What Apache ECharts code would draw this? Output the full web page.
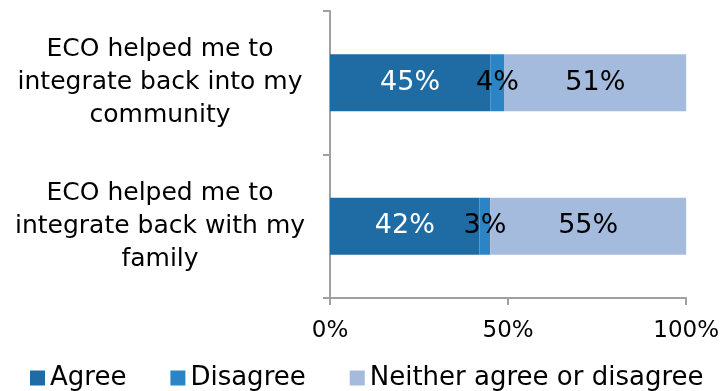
<!DOCTYPE html>
<html><head><meta charset="utf-8">
<script src="https://cdn.jsdelivr.net/npm/echarts@6/dist/echarts.min.js"></script>
<style>html,body{margin:0;padding:0;background:#fff}#c{width:722px;height:391px}</style>
</head><body><div id="c"></div>
<script>
const categories = [
  "ECO helped me to\nintegrate back into my\ncommunity",
  "ECO helped me to\nintegrate back with my\nfamily"
];
const seriesNames = ["Agree", "Disagree", "Neither agree or disagree"];
const agree = [45, 42];
const disagree = [4, 3];
const neither = [51, 55];
const xTicks = [0, 50, 100];

const FONT = "DejaVu Sans";
const colors = ["#1F6BA4", "#2A84C6", "#A4BBDD"];
const labelColors = ["#ffffff", "#000000", "#000000"];
const values = [agree, disagree, neither];

const chart = echarts.init(document.getElementById('c'), null, {renderer: 'canvas'});
chart.setOption({
  animation: false,
  textStyle: {fontFamily: FONT},
  grid: {left: 330, right: 33, top: 11, bottom: 93, containLabel: false},
  legend: {
    bottom: 0, left: 30, width: 692, padding: 0,
    itemWidth: 15, itemHeight: 15, itemGap: 44,
    icon: 'rect',
    textStyle: {fontFamily: FONT, fontSize: 26, color: '#000'},
    data: seriesNames
  },
  xAxis: {
    type: 'value', min: xTicks[0], max: xTicks[xTicks.length-1], interval: 50,
    splitLine: {show: false},
    axisLine: {show: true, lineStyle: {color: '#A0A0A0', width: 2}},
    axisTick: {show: true, length: 7, lineStyle: {color: '#A0A0A0', width: 2}},
    axisLabel: {formatter: '{value}%', fontFamily: FONT, fontSize: 23, color: '#000', margin: 22}
  },
  yAxis: {
    type: 'category', inverse: true, data: categories,
    axisLine: {show: true, lineStyle: {color: '#A0A0A0', width: 2}},
    axisTick: {show: true, length: 7, lineStyle: {color: '#A0A0A0', width: 2}},
    axisLabel: {fontFamily: FONT, fontSize: 25, color: '#000', align: 'center', margin: 170, lineHeight: 33, padding: [8, 0, 0, 0]}
  },
  series: seriesNames.map((n, i) => ({
    name: n, type: 'bar', stack: 'total', barWidth: 57,
    itemStyle: {color: colors[i]},
    label: {
      show: true, position: 'inside', formatter: '{c}%',
      fontFamily: FONT, fontSize: 27, color: labelColors[i]
    },
    data: values[i]
  }))
});
</script></body></html>
